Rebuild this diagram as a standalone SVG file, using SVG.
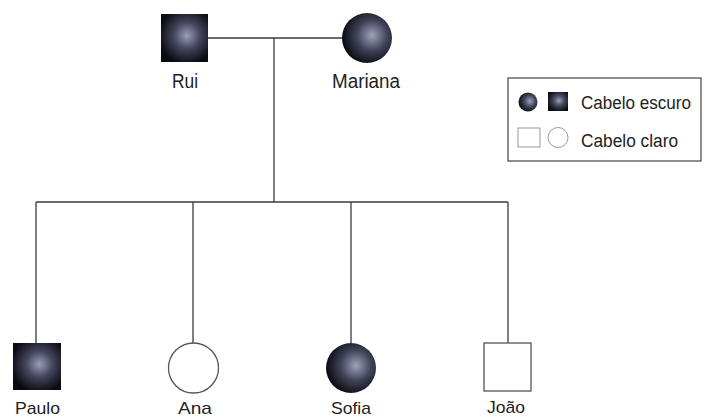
<svg xmlns="http://www.w3.org/2000/svg" width="705" height="417" viewBox="0 0 705 417">
<defs>
<radialGradient id="gs" cx="0.55" cy="0.45" r="0.6">
<stop offset="0" stop-color="#9a9fba"/>
<stop offset="0.45" stop-color="#45485e"/>
<stop offset="1" stop-color="#0a0a12"/>
</radialGradient>
<radialGradient id="gc" cx="0.6" cy="0.45" r="0.6">
<stop offset="0" stop-color="#9ea3bd"/>
<stop offset="0.5" stop-color="#42455a"/>
<stop offset="1" stop-color="#0a0a12"/>
</radialGradient>
<style>
.sq{fill:url(#gs)}
.ci{fill:url(#gc)}
.lt{fill:#fff;stroke:#555;stroke-width:1.3}
.ln{fill:none;stroke:#3a3a44;stroke-width:1.3}
text{font-family:"Liberation Sans",Arial,sans-serif;font-size:20px;fill:#222}
.lab{text-anchor:middle}
.kid{font-size:17px}
.lg{font-size:18px}
</style>
</defs>
<rect width="705" height="417" fill="#fff"/>
<g id="connectors">
<line class="ln" x1="208" y1="38" x2="342" y2="38"/>
<line class="ln" x1="274" y1="38" x2="274" y2="202"/>
<line class="ln" x1="36" y1="202" x2="508" y2="202"/>
<line class="ln" x1="36" y1="202" x2="36" y2="343"/>
<line class="ln" x1="193" y1="202" x2="193" y2="343"/>
<line class="ln" x1="351" y1="202" x2="351" y2="343"/>
<line class="ln" x1="508" y1="202" x2="508" y2="343"/>
</g>
<g id="rui">
<rect class="sq" x="161" y="14" width="47" height="48"/>
<text class="lab" x="185" y="88" textLength="26" lengthAdjust="spacingAndGlyphs">Rui</text>
</g>
<g id="mariana">
<circle class="ci" cx="367" cy="38" r="25"/>
<text class="lab" x="366" y="88" textLength="68" lengthAdjust="spacingAndGlyphs">Mariana</text>
</g>
<g id="paulo">
<rect class="sq" x="13" y="343" width="48" height="47"/>
<text class="lab kid" x="37.5" y="414" textLength="45" lengthAdjust="spacingAndGlyphs">Paulo</text>
</g>
<g id="ana">
<circle class="lt" cx="193.5" cy="368" r="25"/>
<text class="lab kid" x="195" y="414" textLength="34" lengthAdjust="spacingAndGlyphs">Ana</text>
</g>
<g id="sofia">
<circle class="ci" cx="351" cy="368" r="25"/>
<text class="lab kid" x="351" y="414" textLength="40" lengthAdjust="spacingAndGlyphs">Sofia</text>
</g>
<g id="joao">
<rect class="lt" x="484" y="343" width="47" height="48"/>
<text class="lab kid" x="506" y="413" textLength="38" lengthAdjust="spacingAndGlyphs">João</text>
</g>
<g id="legend">
<rect x="508" y="78" width="193" height="83" fill="#fff" stroke="#444" stroke-width="1.2"/>
<circle class="ci" cx="528" cy="102" r="9.5"/>
<rect class="sq" x="548" y="92" width="20" height="19"/>
<text class="lg" x="581" y="109" textLength="110" lengthAdjust="spacingAndGlyphs">Cabelo escuro</text>
<rect x="518" y="128" width="22" height="19" fill="#fff" stroke="#999" stroke-width="1"/>
<circle cx="558" cy="137.5" r="10" fill="#fff" stroke="#999" stroke-width="1"/>
<text class="lg" x="581" y="147" textLength="97" lengthAdjust="spacingAndGlyphs">Cabelo claro</text>
</g>
</svg>
